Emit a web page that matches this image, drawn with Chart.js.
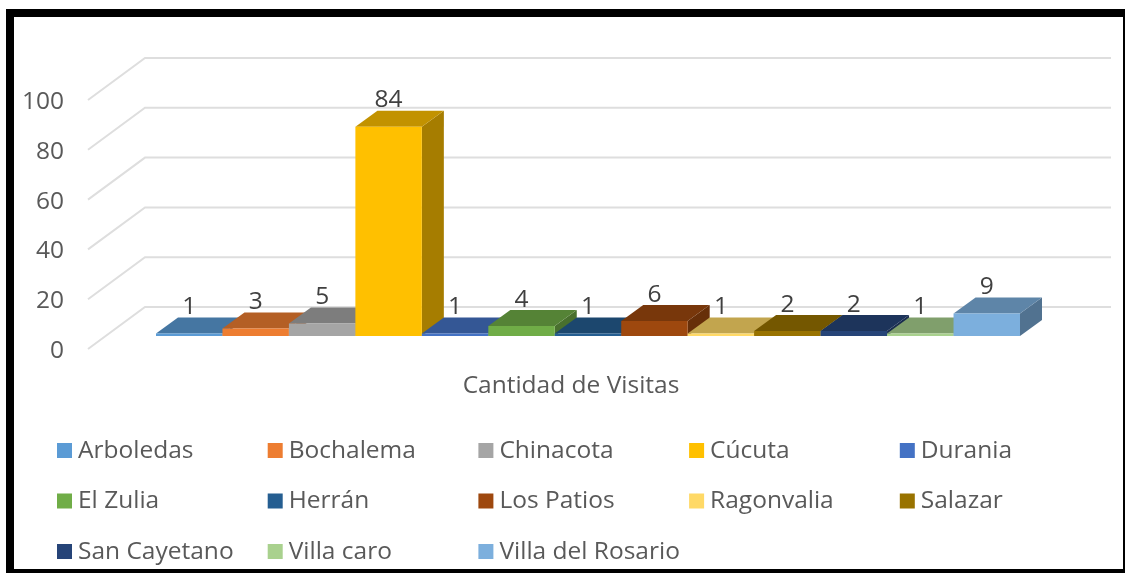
<!DOCTYPE html>
<html>
<head>
<meta charset="utf-8">
<title>Cantidad de Visitas</title>
<script src="https://cdn.jsdelivr.net/npm/chart.js@4"></script>
<style>
html,body{margin:0;padding:0;background:#fff;overflow:hidden;width:1125px;height:573px}
#wrap{position:relative;width:1125px;height:573px}
canvas{position:absolute;left:0;top:0;filter:blur(0.45px)}
#frame{position:absolute;left:6px;top:9px;right:0;bottom:0;border:solid #000;border-width:8px 2px 4px 8px;box-sizing:border-box;pointer-events:none}
</style>
</head>
<body>
<div id="wrap"><canvas id="c" width="1125" height="573"></canvas><div id="frame"></div></div>
<script>
const categories = ['Cantidad de Visitas'];
const municipios = ['Arboledas','Bochalema','Chinacota','Cúcuta','Durania','El Zulia','Herrán','Los Patios','Ragonvalia','Salazar','San Cayetano','Villa caro','Villa del Rosario'];
const visitas = [1,3,5,84,1,4,1,6,1,2,2,1,9];
const colores = ['#5B9BD5','#ED7D31','#A5A5A5','#FFC000','#4472C4','#70AD47','#255E91','#9E480E','#FFD966','#997300','#264478','#A9D18E','#7CAFDD'];
const yTicks = [0,20,40,60,80,100];

const FONT = '"Open Sans"';
const TEXT = '#595959';
const DEPTH_X = 22, DEPTH_Y = 16;
const BACK_X = 145, FRONT_X = 88, RIGHT_X = 1111, BACK_DY = 29, FRONT_DY = 13;

function shade(hex, k){
  const n = parseInt(hex.slice(1),16);
  const c = [(n>>16)&255,(n>>8)&255,n&255].map(v=>Math.round(v*k));
  return `rgb(${c[0]},${c[1]},${c[2]})`;
}

const scene3d = {
  id:'scene3d',
  beforeDatasetsDraw(chart){
    const ctx = chart.ctx, y = chart.scales.y;
    ctx.save();
    ctx.strokeStyle = '#DEDEDE';
    ctx.lineWidth = 2;
    yTicks.forEach(v=>{
      const p = y.getPixelForValue(v);
      ctx.beginPath();
      ctx.moveTo(FRONT_X, p+FRONT_DY);
      ctx.lineTo(BACK_X, p-BACK_DY);
      ctx.lineTo(RIGHT_X, p-BACK_DY);
      ctx.stroke();
    });
    ctx.restore();
  },
  beforeDatasetDraw(){ return false; },
  afterDatasetsDraw(chart){
    const ctx = chart.ctx;
    // paint left to right so that each bar hides the side of the one before it
    chart.data.datasets.forEach((ds,i)=>{
      const meta = chart.getDatasetMeta(i);
      const el = meta.data[0];
      const {x,y,base,width} = el.getProps(['x','y','base','width'],true);
      const l = x-width/2, r = x+width/2;
      ctx.save();
      ctx.fillStyle = shade(colores[i],0.65);
      ctx.beginPath();
      ctx.moveTo(r,y); ctx.lineTo(r+DEPTH_X,y-DEPTH_Y); ctx.lineTo(r+DEPTH_X,base-DEPTH_Y); ctx.lineTo(r,base);
      ctx.closePath(); ctx.fill();
      ctx.fillStyle = shade(colores[i],0.76);
      ctx.beginPath();
      ctx.moveTo(l,y); ctx.lineTo(l+DEPTH_X,y-DEPTH_Y); ctx.lineTo(r+DEPTH_X,y-DEPTH_Y); ctx.lineTo(r,y);
      ctx.closePath(); ctx.fill();
      ctx.restore();
      meta.controller.draw();
    });
    // value labels
    ctx.save();
    ctx.font = '24.5px '+FONT;
    ctx.fillStyle = '#404040';
    ctx.textAlign = 'center';
    ctx.textBaseline = 'middle';
    chart.data.datasets.forEach((ds,i)=>{
      const el = chart.getDatasetMeta(i).data[0];
      ctx.fillText(String(ds.data[0]), el.x, el.y-26.5);
    });
    ctx.restore();
    // legend in a fixed grid of five columns
    ctx.save();
    ctx.font = '24.5px '+FONT;
    ctx.textBaseline = 'middle';
    ctx.textAlign = 'left';
    chart.data.datasets.forEach((ds,i)=>{
      const col = i%5, row = Math.floor(i/5);
      const sx = 57+col*210.7, sy = 450+row*50.5;
      ctx.fillStyle = colores[i];
      ctx.fillRect(sx, sy-7, 15, 15);
      ctx.fillStyle = TEXT;
      ctx.fillText(ds.label, sx+21, sy+1);
    });
    ctx.restore();
  }
};

new Chart(document.getElementById('c'),{
  type:'bar',
  data:{
    labels:categories,
    datasets:municipios.map((m,i)=>({label:m,data:[visitas[i]],backgroundColor:colores[i],borderWidth:0}))
  },
  options:{
    responsive:false,
    animation:false,
    devicePixelRatio:1,
    barPercentage:1,
    categoryPercentage:864/956,
    layout:{padding:{left:0,right:59,top:87,bottom:0}},
    plugins:{legend:{display:false},title:{display:false},tooltip:{enabled:false}},
    scales:{
      x:{
        grid:{display:false,drawTicks:false},
        border:{display:false},
        afterFit(s){s.height=237;},
        ticks:{font:{family:FONT,size:24.5},color:TEXT,padding:35,labelOffset:-17,maxRotation:0,autoSkip:false}
      },
      y:{
        min:0,max:100,
        grid:{display:false,drawTicks:false},
        border:{display:false},
        afterFit(s){s.width=110;},
        ticks:{stepSize:20,font:{family:FONT,size:24.5},color:TEXT,padding:46,labelOffset:15}
      }
    }
  },
  plugins:[scene3d]
});
</script>
</body>
</html>
